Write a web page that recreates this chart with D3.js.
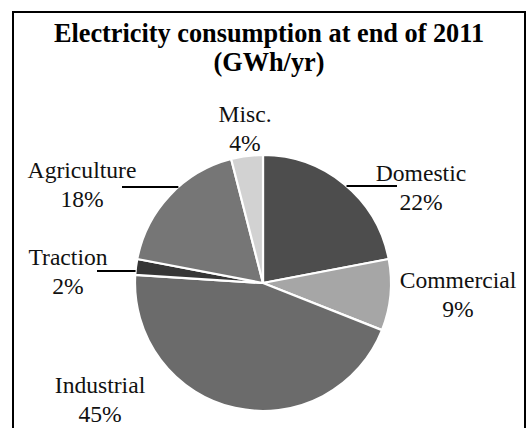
<!DOCTYPE html>
<html>
<head>
<meta charset="utf-8">
<script src="https://cdn.jsdelivr.net/npm/d3@7"></script>
</head>
<body style="margin:0;background:#fff">
<svg id="chart" width="528" height="428" style="display:block"></svg>
<script>
// ---- data ----
const categories = ["Domestic", "Commercial", "Industrial", "Traction", "Agriculture", "Misc."];
const shares = [22, 9, 45, 2, 18, 4];
const percentLabels = ["22%", "9%", "45%", "2%", "18%", "4%"];
const sliceColors = ["#4d4d4d", "#a6a6a6", "#6b6b6b", "#363636", "#767676", "#d2d2d2"];
const titleLines = ["Electricity consumption at end of 2011", "(GWh/yr)"];

// ---- layout ----
const cx = 263, cy = 283, R = 128;
const svg = d3.select("#chart");

svg.append("rect").attr("x", 13).attr("y", 12).attr("width", 512).attr("height", 440)
  .attr("fill", "#fff").attr("stroke", "#000").attr("stroke-width", 2);

const data = categories.map((c, i) => ({ name: c, value: shares[i], pct: percentLabels[i], color: sliceColors[i] }));
const pie = d3.pie().value(d => d.value).sort(null);
const arc = d3.arc().innerRadius(0).outerRadius(R);

const g = svg.append("g").attr("transform", `translate(${cx},${cy})`);
g.selectAll("path").data(pie(data)).join("path")
  .attr("d", arc)
  .attr("fill", d => d.data.color)
  .attr("stroke", "#fff").attr("stroke-width", 2.2).attr("stroke-linejoin", "round");

// label placement (x center, first baseline), leader y & outer x
const labelPos = {
  "Domestic":    { x: 421, y: 181, lead: { y: 186, to: 397, side: 1 } },
  "Commercial":  { x: 458, y: 288 },
  "Industrial":  { x: 100, y: 393 },
  "Traction":    { x: 68,  y: 265, lead: { y: 271, to: 97, side: -1 } },
  "Agriculture": { x: 82,  y: 178, lead: { y: 187, to: 122, side: -1 } },
  "Misc.":       { x: 245, y: 122 }
};

const leaders = data.filter(d => labelPos[d.name].lead).map(d => {
  const l = labelPos[d.name].lead;
  const dy = l.y - cy;
  const xEdge = cx + l.side * Math.sqrt(R * R - dy * dy);
  return { x1: xEdge, x2: l.to, y: l.y };
});
svg.append("g").selectAll("line").data(leaders).join("line")
  .attr("x1", d => d.x1).attr("x2", d => d.x2)
  .attr("y1", d => d.y).attr("y2", d => d.y)
  .attr("stroke", "#000").attr("stroke-width", 2);

// title
svg.selectAll("text.title").data(titleLines).join("text")
  .attr("class", "title")
  .attr("x", 269).attr("y", (d, i) => 42 + i * 29)
  .attr("text-anchor", "middle")
  .style("font-family", "Liberation Serif")
  .style("font-weight", "bold").style("font-size", "26.3px")
  .text(d => d);

// labels: two lines each
const rows = [];
data.forEach(d => {
  const p = labelPos[d.name];
  rows.push({ t: d.name, x: p.x, y: p.y });
  rows.push({ t: d.pct, x: p.x, y: p.y + 29 });
});
svg.selectAll("text.lbl").data(rows).join("text")
  .attr("class", "lbl")
  .attr("x", r => r.x).attr("y", r => r.y)
  .attr("text-anchor", "middle").attr("fill", "#111")
  .style("font-family", "Liberation Serif").style("font-size", "23.6px")
  .text(r => r.t);
</script>
</body>
</html>
